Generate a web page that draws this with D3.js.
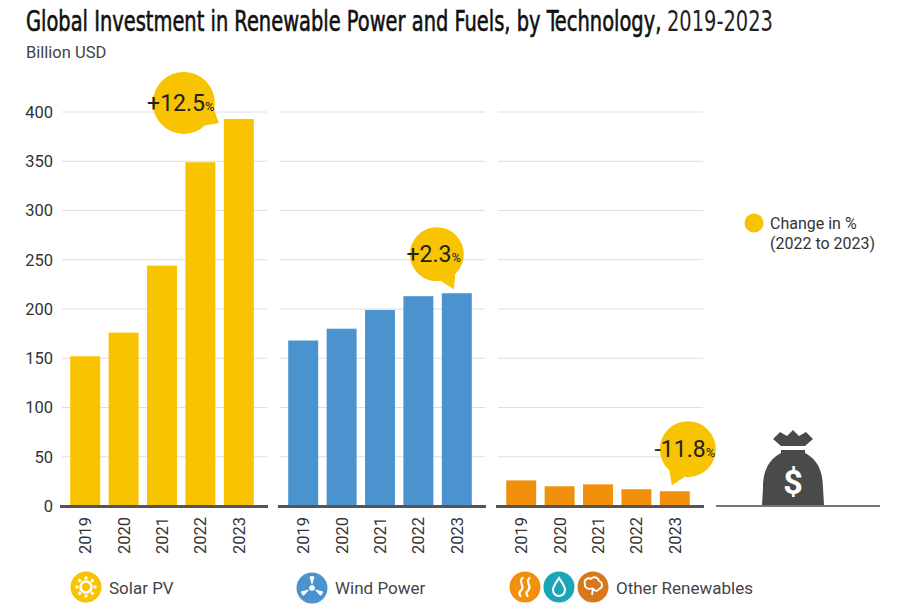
<!DOCTYPE html>
<html>
<head>
<meta charset="utf-8">
<script src="https://cdn.jsdelivr.net/npm/d3@7"></script>
<style>
  body { margin: 0; background: #fff; }
  svg { display: block; font-family: Roboto, "Noto Sans", sans-serif; }
</style>
</head>
<body>
<svg id="chart" width="900" height="615"></svg>
<script>
const years = ['2019', '2020', '2021', '2022', '2023']
const solar = [152, 176, 244, 349, 393]
const wind = [168, 180, 199, 213, 216]
const other = [26, 20, 22, 17, 15]
const changes = ['+12.5', '+2.3', '-11.8']
const seriesNames = ['Solar PV', 'Wind Power', 'Other Renewables']
const yTicks = [0, 50, 100, 150, 200, 250, 300, 350, 400]

const YELLOW = '#F8C300'
const colors = ['#F8C300', '#4A93CF', '#F0900C']

const svg = d3.select('#chart')

const y = d3.scaleLinear().domain([0, 400]).range([506, 112])

// panel left edges, width of each panel
const panelX = [62, 280, 498]
const panelW = 205

// bubble placement relative to the 2023 bar top: [cx offset, cy offset, r, tip dx, tip dy]
const bubbleLayout = [
    [-40, -16, 31, -5, 4],
    [-5, -39, 27, 12, -4],
    [28, -42, 28, 12, -6]
]

// title: condensed font, squeezed to the reference width
const titleG = svg.append('g')
const titleFont = '"Liberation Sans Narrow", "DejaVu Sans Condensed", sans-serif'
const t1 = titleG.append('text')
    .attr('x', 0).attr('y', 0)
    .attr('font-family', titleFont)
    .attr('font-size', 29)
    .attr('fill', '#111')
    .attr('stroke', '#111').attr('stroke-width', 0.6)
    .text('Global Investment in Renewable Power and Fuels, by Technology,')
const w1 = t1.node().getComputedTextLength()
const t2 = titleG.append('text')
    .attr('x', w1 + 7).attr('y', 0)
    .attr('font-family', titleFont)
    .attr('font-size', 29)
    .attr('fill', '#222')
    .text('2019-2023')
const wAll = w1 + 7 + t2.node().getComputedTextLength()
titleG.attr('transform', `translate(26,31) scale(${747 / wAll},1)`)

svg.append('text')
    .attr('x', 26).attr('y', 58)
    .attr('font-size', 16.5).attr('fill', '#444')
    .text('Billion USD')

// y labels
svg.append('g').selectAll('text')
    .data(yTicks)
    .join('text')
    .attr('x', 53).attr('y', d => y(d))
    .attr('dy', '0.35em')
    .attr('text-anchor', 'end')
    .attr('font-size', 16.5).attr('fill', '#333')
    .text(d => d)

const seriesList = [solar, wind, other]

seriesList.forEach((values, i) => {

    const x0 = panelX[i]
    const g = svg.append('g')

    const x = d3.scaleBand()
        .domain(years)
        .range([x0 + 4, x0 + 196])
        .paddingInner(0.22)
        .paddingOuter(0.11)

    g.selectAll('line.grid')
        .data(yTicks.slice(1))
        .join('line')
        .attr('class', 'grid')
        .attr('x1', x0).attr('x2', x0 + panelW)
        .attr('y1', d => y(d)).attr('y2', d => y(d))
        .attr('stroke', '#dedede').attr('stroke-width', 1)

    g.selectAll('rect')
        .data(values)
        .join('rect')
        .attr('x', (d, j) => x(years[j]))
        .attr('y', d => y(d))
        .attr('width', x.bandwidth())
        .attr('height', d => y(0) - y(d))
        .attr('fill', colors[i])

    g.append('line')
        .attr('x1', x0 - 2).attr('x2', x0 + panelW + 1)
        .attr('y1', y(0) + 0.5).attr('y2', y(0) + 0.5)
        .attr('stroke', '#555').attr('stroke-width', 3)

    g.selectAll('text.year')
        .data(years)
        .join('text')
        .attr('class', 'year')
        .attr('transform', d => `translate(${x(d) + x.bandwidth() / 2},517) rotate(-90)`)
        .attr('dy', '0.36em')
        .attr('text-anchor', 'end')
        .attr('font-size', 16.5).attr('fill', '#333')
        .text(d => d)

    // change bubble
    const last = values[values.length - 1]
    const bx = x(years[years.length - 1])
    const by = y(last)
    const [cdx, cdy, r, tdx, tdy] = bubbleLayout[i]
    const cx = bx + cdx, cy = by + cdy
    const tip = [bx + tdx, by + tdy]
    const ang = Math.atan2(tip[1] - cy, tip[0] - cx)
    const spread = 0.3
    const p1 = [cx + r * Math.cos(ang - spread), cy + r * Math.sin(ang - spread)]
    const p2 = [cx + r * Math.cos(ang + spread), cy + r * Math.sin(ang + spread)]

    g.append('path')
        .attr('d', `M${p1}L${tip}L${p2}Z`)
        .attr('fill', YELLOW)
    g.append('circle')
        .attr('cx', cx).attr('cy', cy).attr('r', r)
        .attr('fill', YELLOW)

    const t = g.append('text')
        .attr('x', cx - 3).attr('y', cy + 8)
        .attr('text-anchor', 'middle')
        .attr('fill', '#222')
    t.append('tspan').attr('font-size', 23).text(changes[i])
    t.append('tspan').attr('font-size', 13).text('%')
})

// empty fourth panel with the money bag
svg.append('line')
    .attr('x1', 716).attr('x2', 880)
    .attr('y1', 506).attr('y2', 506)
    .attr('stroke', '#777').attr('stroke-width', 2)

const bag = svg.append('g').attr('transform', 'translate(793,0)')
bag.append('path')
    .attr('d', 'M-20,439 L-13,432 L-6,436 L0,430 L6,436 L13,432 L20,439 L12,446 L-12,446 Z')
    .attr('fill', '#4a4a4a')
bag.append('path')
    .attr('d', 'M-12,450 L12,450 L12,453 C26,460 30,474 30,488 L31,505 L-31,505 L-30,488 C-30,474 -26,460 -12,453 Z')
    .attr('fill', '#4a4a4a')
bag.append('text')
    .attr('x', 0).attr('y', 494)
    .attr('text-anchor', 'middle')
    .attr('font-size', 34).attr('font-weight', 'bold')
    .attr('fill', '#fff')
    .text('$')

// change legend
svg.append('circle').attr('cx', 754).attr('cy', 223).attr('r', 9.5).attr('fill', YELLOW)
svg.append('text').attr('x', 770).attr('y', 229)
    .attr('font-size', 16).attr('fill', '#333').text('Change in %')
svg.append('text').attr('x', 770).attr('y', 249)
    .attr('font-size', 16).attr('fill', '#333').text('(2022 to 2023)')

// bottom legend icons
const icon = (cx, cy, fill) => {
    const g = svg.append('g').attr('transform', `translate(${cx},${cy})`)
    g.append('circle').attr('r', 15.5).attr('fill', fill)
    return g
}

const sun = icon(86, 587, colors[0])
sun.append('circle').attr('r', 5.5).attr('fill', 'none').attr('stroke', '#fff').attr('stroke-width', 2.5)
sun.selectAll('line')
    .data(d3.range(8))
    .join('line')
    .attr('x1', d => 7.5 * Math.cos(d * Math.PI / 4))
    .attr('y1', d => 7.5 * Math.sin(d * Math.PI / 4))
    .attr('x2', d => 10.5 * Math.cos(d * Math.PI / 4))
    .attr('y2', d => 10.5 * Math.sin(d * Math.PI / 4))
    .attr('stroke', '#fff').attr('stroke-width', 3)

const turbine = icon(312, 588, colors[1])
turbine.selectAll('path')
    .data([-90, 30, 150])
    .join('path')
    .attr('d', 'M3,0 L11,-2.5 Q13,0 11,2.5 Z')
    .attr('transform', d => `rotate(${d})`)
    .attr('fill', '#fff')
turbine.append('circle').attr('r', 2.8).attr('fill', '#fff')

const geo = icon(525, 587, colors[2])
geo.selectAll('path')
    .data([-3.5, 3.5])
    .join('path')
    .attr('d', d => `M${d + 1},-9 C${d - 4},-5 ${d + 4},-1 ${d},3 C${d - 4},6 ${d - 1},9 ${d - 1},9`)
    .attr('fill', 'none').attr('stroke', '#fff').attr('stroke-width', 2.2).attr('stroke-linecap', 'round')

const hydro = icon(559, 587, '#1BA6B8')
hydro.append('path')
    .attr('d', 'M0,-9 C3,-4 6,-1 6,3 A6,6 0 0 1 -6,3 C-6,-1 -3,-4 0,-9 Z')
    .attr('fill', 'none').attr('stroke', '#fff').attr('stroke-width', 2)

const bio = icon(593, 587, '#D8771B')
bio.append('path')
    .attr('d', 'M-1,8 L0,1 M0,1 C-4,3 -9,1 -8,-3 C-10,-7 -5,-10 -2,-8 C0,-11 5,-10 6,-6 C10,-5 10,1 6,2 C4,5 1,4 0,1')
    .attr('fill', 'none').attr('stroke', '#fff').attr('stroke-width', 1.8).attr('stroke-linejoin', 'round')

const legendText = [[109, seriesNames[0]], [335, seriesNames[1]], [616, seriesNames[2]]]
svg.selectAll('text.leg')
    .data(legendText)
    .join('text')
    .attr('class', 'leg')
    .attr('x', d => d[0]).attr('y', 594)
    .attr('font-size', 17).attr('fill', '#444')
    .text(d => d[1])
</script>
</body>
</html>
